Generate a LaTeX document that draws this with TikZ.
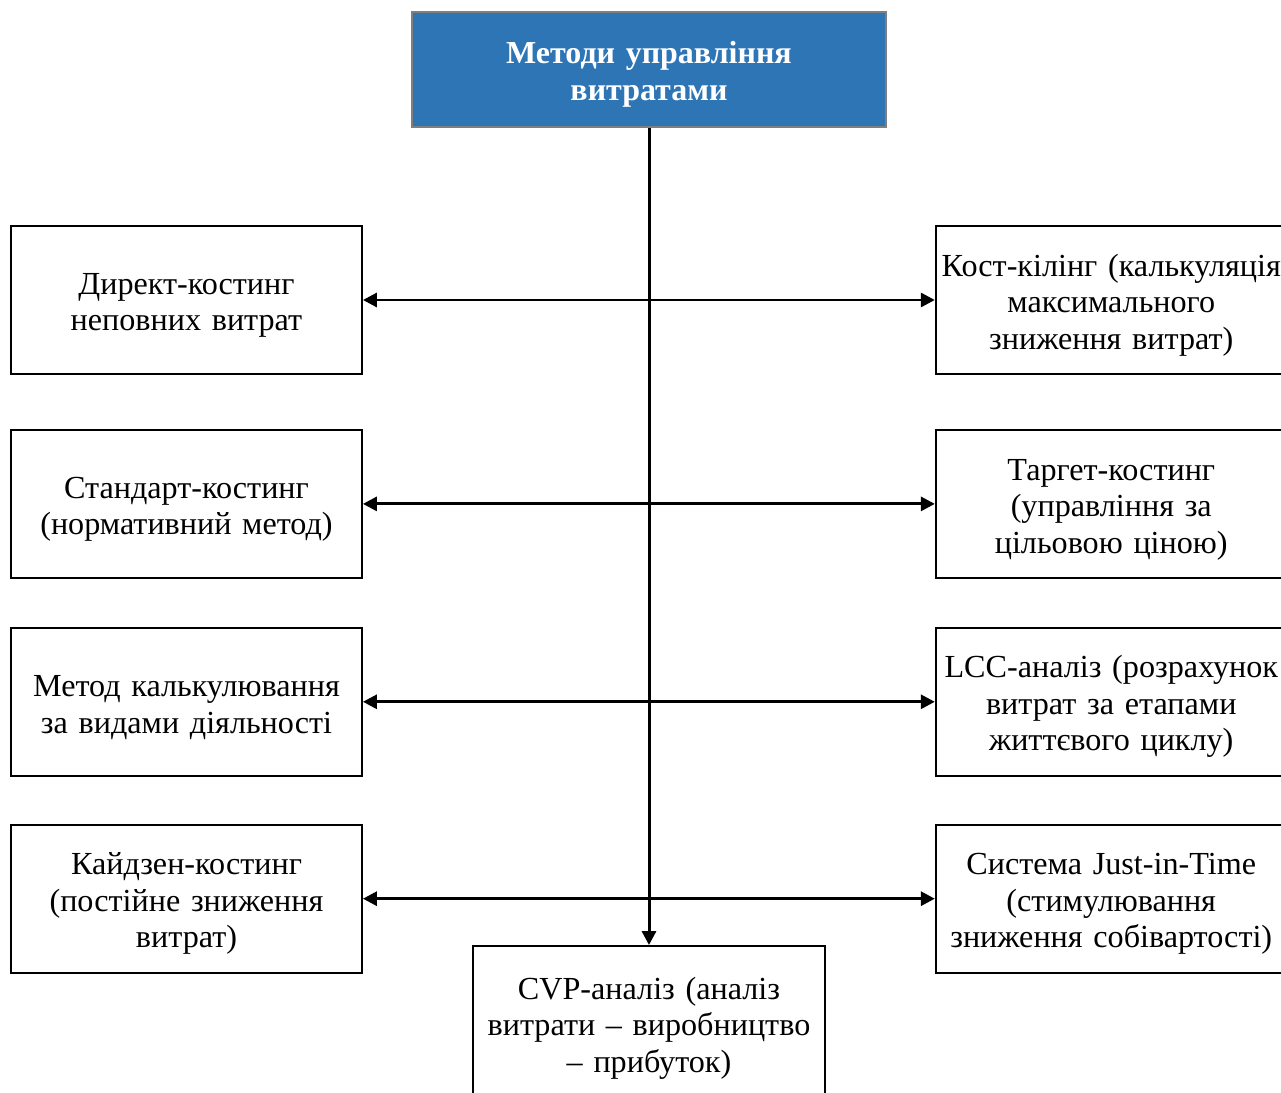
\documentclass[tikz,border=0pt]{standalone}
\usepackage{fontspec}
\setmainfont{Liberation Serif}
\usetikzlibrary{arrows.meta, positioning}
\definecolor{kopf}{HTML}{2E75B6}
\definecolor{rand}{HTML}{7F7F7F}

\begin{document}
\begin{tikzpicture}[
        x=0.02cm, y=-0.02cm,
        box/.style={draw, line width=1.1pt, minimum width=7.02cm,
                     minimum height=2.96cm, font=\fontsize{18.3}{20.8}\selectfont,
                     text width=6.95cm, align=center, inner sep=0pt,
                     execute at begin node={\rule{0pt}{1.0em}}},
        titel/.style={draw=rand, line width=1.2pt, fill=kopf, text=white,
                     minimum width=9.48cm, minimum height=2.3cm,
                     font=\fontsize{18.2}{20.8}\selectfont\bfseries,
                     text width=9cm, align=center,
                     execute at begin node={\rule{0pt}{1.0em}}},
        arr/.style={{Triangle[length=0.28cm, width=0.28cm]}-{Triangle[length=0.28cm, width=0.28cm]},
                     line width=1.7pt},
        pfeil/.style={-{Triangle[length=0.28cm, width=0.28cm]}, line width=1.7pt},
        node distance=1cm
      ]
      \clip (0,0) rectangle (1281,1092);

      \node[titel] (methoden) at (649,69.5) {Методи управління\\витратами};

      % linke Spalte
      \node[box] (direkt) at (186.5,300) {Директ-костинг\\неповних витрат};
      \node[box, below=1.08cm of direkt] (standard) {Стандарт-костинг\\(нормативний метод)};
      \node[box, below=0.96cm of standard] (abc) {Метод калькулювання\\за видами діяльності};
      \node[box, below=0.94cm of abc] (kaizen) {Кайдзен-костинг\\(постійне зниження\\витрат)};

      % rechte Spalte
      \node[box, right=11.44cm of direkt] (kill) {Кост-кілінг (калькуляція\\максимального\\зниження витрат)};
      \node[box, right=11.44cm of standard] (target) {Таргет-костинг\\(управління за\\цільовою ціною)};
      \node[box, right=11.44cm of abc] (lcc) {LCC-аналіз (розрахунок\\витрат за етапами\\життєвого циклу)};
      \node[box, right=11.44cm of kaizen] (jit) {Система Just-in-Time\\(стимулювання\\зниження собівартості)};

      \node[box, minimum width=7.04cm, minimum height=3.08cm] (cvp) at (649,1023)
        {CVP-аналіз (аналіз\\витрати – виробництво\\– прибуток)};

      \draw[pfeil] (methoden) -- (cvp);
      \draw[arr] (direkt) -- (kill);
      \draw[arr] (standard) -- (target);
      \draw[arr] (abc) -- (lcc);
      \draw[arr] (kaizen) -- (jit);
    \end{tikzpicture}
\end{document}
